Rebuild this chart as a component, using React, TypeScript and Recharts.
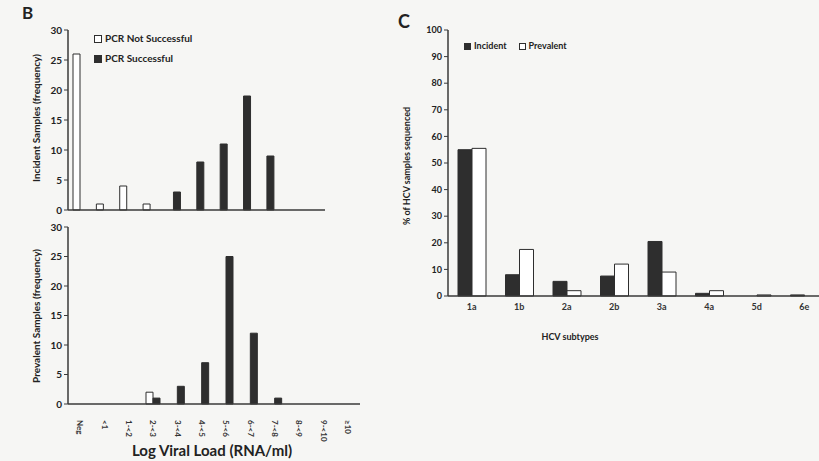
import { Bar, BarChart, XAxis, YAxis } from 'recharts'

const viralLoadBins = ['Neg', '<1', '1-<2', '2-<3', '3-<4', '4-<5', '5-<6', '6-<7', '7-<8', '8-<9', '9-<10', '≥10']
const incidentNotSuccessful = [26, 1, 4, 1, 0, 0, 0, 0, 0, 0, 0]
const incidentSuccessful = [0, 0, 0, 0, 3, 8, 11, 19, 9, 0, 0]
const prevalentNotSuccessful = [0, 0, 0, 2, 0, 0, 0, 0, 0, 0, 0, 0]
const prevalentSuccessful = [0, 0, 0, 1, 3, 7, 25, 12, 1, 0, 0, 0]
const freqTicks = [0, 5, 10, 15, 20, 25, 30]

const subtypes = ['1a', '1b', '2a', '2b', '3a', '4a', '5d', '6e']
const incidentPct = [55, 8, 5.5, 7.5, 20.5, 1, 0, 0.4]
const prevalentPct = [55.5, 17.5, 2, 12, 9, 2, 0.4, 0]
const pctTicks = [0, 10, 20, 30, 40, 50, 60, 70, 80, 90, 100]

const FONT = 'Lato, "Open Sans", sans-serif'
const DARK = '#2e2e2e'
const AXIS = '#3a3a3a'

const incidentData = incidentNotSuccessful.map((v, i) => ({
  bin: viralLoadBins[i], notOk: v, ok: incidentSuccessful[i],
}))
const prevalentData = viralLoadBins.map((b, i) => ({
  bin: b, notOk: prevalentNotSuccessful[i], ok: prevalentSuccessful[i],
}))
const subtypeData = subtypes.map((s, i) => ({ s, incident: incidentPct[i], prevalent: prevalentPct[i] }))

const yTick = { fontSize: 10, fontWeight: 700, fill: '#222', fontFamily: FONT }

const RotTick = (props: any) => {
  const { x, y, payload } = props
  return (
    <g transform={`translate(${x},${y + 8})`}>
      <text transform="rotate(90)" textAnchor="start" dy={3} fontSize={8} fontWeight={700} fill="#333" fontFamily={FONT}>
        {payload.value}
      </text>
    </g>
  )
}

const Swatch = ({ filled, size = 8 }: { filled: boolean; size?: number }) => (
  <span style={{
    display: 'inline-block', width: size, height: size, marginRight: 3, verticalAlign: 'middle',
    background: filled ? DARK : '#fff', border: `1px solid ${DARK}`, boxSizing: 'border-box',
  }} />
)

const abs = (left: number, top: number, extra: any = {}) => ({ position: 'absolute' as const, left, top, ...extra })

export default function App() {
  return (
    <div style={{ position: 'absolute', left: 0, top: 0, width: 819, height: 461, overflow: 'hidden', background: '#f6f6f4', fontFamily: FONT, color: '#222' }}>
      {/* panel B - incident */}
      <div style={abs(22, 2, { fontSize: 17, fontWeight: 700 })}>B</div>
      <div style={abs(0, 0)}>
        <BarChart width={340} height={220} data={incidentData} margin={{ top: 30, right: 15, bottom: 0, left: 38 }} barGap={0} barSize={7}>
          <XAxis dataKey="bin" height={10} tick={false} tickLine={false} axisLine={{ stroke: AXIS, strokeWidth: 1.5 }} />
          <YAxis width={30} domain={[0, 30]} ticks={freqTicks} tick={yTick} tickSize={4} tickLine={{ stroke: AXIS }} axisLine={{ stroke: AXIS, strokeWidth: 1.5 }} />
          <Bar dataKey="notOk" fill="#fff" stroke={DARK} strokeWidth={1} isAnimationActive={false} />
          <Bar dataKey="ok" fill={DARK} stroke={DARK} strokeWidth={1} isAnimationActive={false} />
        </BarChart>
      </div>
      <div style={abs(36, 118, { transform: 'translate(-50%,-50%) rotate(-90deg)', fontSize: 10, fontWeight: 700, whiteSpace: 'nowrap' })}>
        Incident Samples (frequency)
      </div>
      <div style={abs(94, 28, { fontSize: 10, fontWeight: 700, lineHeight: '20px' })}>
        <div><Swatch filled={false} />PCR Not Successful</div>
        <div><Swatch filled />PCR Successful</div>
      </div>

      {/* panel B - prevalent */}
      <div style={abs(0, 200)}>
        <BarChart width={370} height={250} data={prevalentData} margin={{ top: 27, right: 10, bottom: 0, left: 38 }} barGap={0} barSize={7}>
          <XAxis dataKey="bin" height={46} interval={0} tick={<RotTick />} tickLine={false} axisLine={{ stroke: AXIS, strokeWidth: 1.5 }} />
          <YAxis width={30} domain={[0, 30]} ticks={freqTicks} tick={yTick} tickSize={4} tickLine={{ stroke: AXIS }} axisLine={{ stroke: AXIS, strokeWidth: 1.5 }} />
          <Bar dataKey="notOk" fill="#fff" stroke={DARK} strokeWidth={1} isAnimationActive={false} />
          <Bar dataKey="ok" fill={DARK} stroke={DARK} strokeWidth={1} isAnimationActive={false} />
        </BarChart>
      </div>
      <div style={abs(36, 316, { transform: 'translate(-50%,-50%) rotate(-90deg)', fontSize: 10, fontWeight: 700, whiteSpace: 'nowrap' })}>
        Prevalent Samples (frequency)
      </div>
      <div style={abs(212, 450, { transform: 'translate(-50%,-50%)', fontSize: 15, fontWeight: 700, whiteSpace: 'nowrap' })}>
        Log Viral Load (RNA/ml)
      </div>

      {/* panel C */}
      <div style={abs(398, 10, { fontSize: 18, fontWeight: 700 })}>C</div>
      <div style={abs(380, 0)}>
        <BarChart width={448} height={350} data={subtypeData} margin={{ top: 30, right: 0, bottom: 24, left: 28 }} barGap={0} barSize={14}>
          <XAxis dataKey="s" height={30} interval={0} tick={{ fontSize: 9, fontWeight: 700, fill: '#333', fontFamily: FONT }} tickLine={false} axisLine={{ stroke: AXIS, strokeWidth: 1.5 }} />
          <YAxis width={40} domain={[0, 100]} ticks={pctTicks} tick={{ ...yTick, fontSize: 9 }} tickSize={4} tickLine={{ stroke: AXIS }} axisLine={{ stroke: AXIS, strokeWidth: 1.5 }} />
          <Bar dataKey="incident" fill={DARK} stroke={DARK} strokeWidth={1} isAnimationActive={false} />
          <Bar dataKey="prevalent" fill="#fff" stroke={DARK} strokeWidth={1} isAnimationActive={false} />
        </BarChart>
      </div>
      <div style={abs(406, 166, { transform: 'translate(-50%,-50%) rotate(-90deg)', fontSize: 9, fontWeight: 700, whiteSpace: 'nowrap' })}>
        % of HCV samples sequenced
      </div>
      <div style={abs(464, 40, { fontSize: 9, fontWeight: 700, display: 'flex', gap: 12 })}>
        <span><Swatch filled size={7} />Incident</span>
        <span><Swatch filled={false} size={7} />Prevalent</span>
      </div>
      <div style={abs(570, 336, { transform: 'translate(-50%,-50%)', fontSize: 9, fontWeight: 700, whiteSpace: 'nowrap' })}>
        HCV subtypes
      </div>
    </div>
  )
}
